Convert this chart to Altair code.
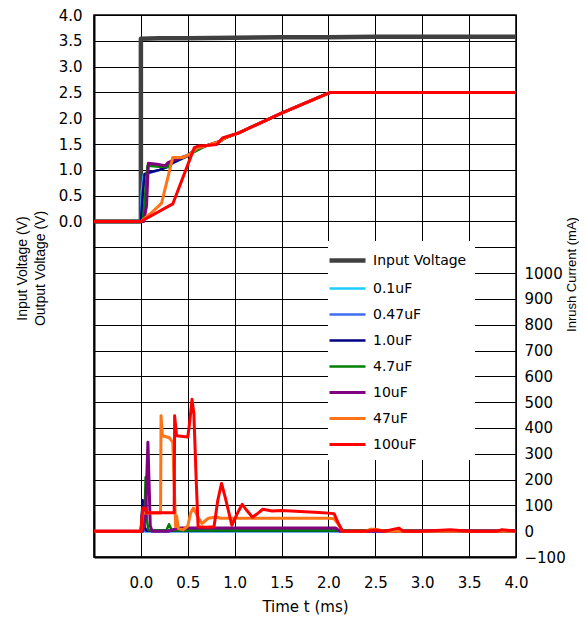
import altair as alt
import pandas as pd

series = ["Input Voltage", "0.1uF", "0.47uF", "1.0uF", "4.7uF", "10uF", "47uF", "100uF"]
colors = ["#404040", "#1ECBFF", "#3F6EF0", "#000080", "#008000", "#800080", "#FF7417", "#FF0000"]
widths = [4.5, 2.5, 2.5, 2.5, 2.5, 3, 3, 3]

# ---- voltages (V) ----
t_vin = [-0.5, 0.0, 0.0, 0.2, 0.5, 1.0, 1.5, 2.0, 2.5, 3.0, 3.5, 4.0]
v_vin = [0.0, 0.0, 3.54, 3.55, 3.55, 3.56, 3.57, 3.57, 3.58, 3.58, 3.58, 3.58]

t_v01 = [-0.5, 0.0, 0.01, 0.03, 0.1, 0.2, 0.27, 0.34, 0.5, 0.59, 0.7, 0.84, 0.9, 1.05, 1.5, 2.02, 2.5, 3.0, 3.5, 4.0]
v_v01 = [0.0, 0.0, 0.6, 0.9, 0.95, 1.0, 1.05, 1.13, 1.27, 1.41, 1.47, 1.55, 1.62, 1.72, 2.1, 2.5, 2.5, 2.5, 2.5, 2.5]
t_v047 = [-0.5, 0.0, 0.015, 0.035, 0.1, 0.2, 0.27, 0.34, 0.5, 0.59, 0.7, 0.84, 0.9, 1.05, 1.5, 2.02, 2.5, 3.0, 3.5, 4.0]
v_v047 = [0.0, 0.0, 0.55, 0.9, 0.95, 1.0, 1.05, 1.13, 1.27, 1.41, 1.47, 1.55, 1.62, 1.72, 2.1, 2.5, 2.5, 2.5, 2.5, 2.5]
t_v1 = [-0.5, 0.0, 0.02, 0.04, 0.1, 0.2, 0.27, 0.34, 0.5, 0.59, 0.7, 0.84, 0.9, 1.05, 1.5, 2.02, 2.5, 3.0, 3.5, 4.0]
v_v1 = [0.0, 0.0, 0.5, 0.92, 0.96, 1.0, 1.05, 1.14, 1.27, 1.41, 1.47, 1.55, 1.62, 1.72, 2.1, 2.5, 2.5, 2.5, 2.5, 2.5]
t_v47 = [-0.5, 0.02, 0.04, 0.07, 0.2, 0.29, 0.32, 0.45, 0.55, 0.7, 0.84, 0.9, 1.05, 1.5, 2.02, 2.5, 3.0, 3.5, 4.0]
v_v47 = [0.0, 0.0, 0.4, 1.08, 1.06, 1.05, 1.17, 1.24, 1.33, 1.47, 1.55, 1.62, 1.72, 2.1, 2.5, 2.5, 2.5, 2.5, 2.5]
t_v10 = [-0.5, 0.03, 0.06, 0.08, 0.17, 0.26, 0.29, 0.4, 0.5, 0.6, 0.7, 0.84, 0.9, 1.05, 1.5, 2.02, 2.5, 3.0, 3.5, 4.0]
v_v10 = [0.0, 0.0, 0.3, 1.13, 1.11, 1.08, 1.14, 1.22, 1.28, 1.42, 1.47, 1.55, 1.62, 1.72, 2.1, 2.5, 2.5, 2.5, 2.5, 2.5]
t_v470 = [-0.5, 0.0, 0.1, 0.22, 0.34, 0.45, 0.52, 0.6, 0.7, 0.84, 0.9, 1.05, 1.5, 2.02, 2.5, 3.0, 3.5, 4.0]
v_v470 = [0.0, 0.0, 0.15, 0.35, 1.24, 1.24, 1.3, 1.42, 1.47, 1.55, 1.62, 1.72, 2.1, 2.5, 2.5, 2.5, 2.5, 2.5]
t_v100 = [-0.5, 0.0, 0.34, 0.57, 0.61, 0.7, 0.81, 0.87, 1.05, 1.5, 2.02, 2.5, 3.0, 3.5, 4.0]
v_v100 = [0.0, 0.0, 0.34, 1.43, 1.46, 1.47, 1.49, 1.62, 1.72, 2.1, 2.5, 2.5, 2.5, 2.5, 2.5]

# ---- inrush currents (mA) ----
t_c01 = [-0.5, 0.0, 0.01, 0.02, 0.03, 4.0]
c_c01 = [0, 0, 60, 15, 0, 0]
t_c047 = [-0.5, 0.0, 0.015, 0.03, 0.05, 4.0]
c_c047 = [0, 0, 90, 10, 0, 0]
t_c1 = [-0.5, 0.0, 0.02, 0.04, 0.06, 4.0]
c_c1 = [0, 0, 120, 15, 3, 3]
t_c47 = [-0.5, 0.02, 0.04, 0.05, 0.065, 0.08, 0.27, 0.3, 0.33, 0.5, 2.1, 4.0]
c_c47 = [0, 0, 60, 209, 40, 5, 2, 27, 3, 3, 3, 0]
t_c10 = [-0.5, 0.02, 0.05, 0.075, 0.1, 0.12, 0.3, 0.36, 0.42, 1.0, 2.0, 2.08, 2.12, 4.0]
c_c10 = [0, 0, 60, 345, 20, 0, 0, 8, 12, 12, 12, 12, 0, 0]
t_c470 = [-0.5, 0.0, 0.02, 0.21, 0.215, 0.23, 0.3, 0.34, 0.37, 0.38, 0.4, 0.45, 0.5, 0.53, 0.56, 0.6, 0.65,
          0.72, 0.8, 0.85, 1.0, 1.5, 2.0, 2.06, 2.1, 2.15, 2.4, 2.45, 2.5, 2.6, 4.0]
c_c470 = [0, 0, 70, 70, 447, 370, 363, 345, 17, 60, 10, 5, 20, 70, 90, 60, 30,
          50, 55, 50, 50, 50, 50, 48, 30, 0, 0, 8, 8, 0, 0]
t_c100 = [-0.5, 0.0, 0.02, 0.05, 0.06, 0.355, 0.36, 0.38, 0.5, 0.52, 0.545, 0.565, 0.59, 0.61, 0.7, 0.78,
          0.82, 0.86, 0.9, 0.97, 1.03, 1.08, 1.13, 1.19, 1.25, 1.3, 1.4, 1.5, 1.6, 1.7, 1.8, 1.9, 2.0,
          2.06, 2.1, 2.15, 2.4, 2.5, 2.6, 2.7, 2.75, 2.8, 3.0, 3.3, 3.5, 3.8, 3.85, 4.0]
c_c100 = [0, 0, 90, 88, 71, 71, 447, 370, 365, 420, 511, 455, 196, 17, 15, 17,
          120, 185, 130, 23, 70, 104, 80, 54, 70, 85, 78, 80, 78, 76, 74, 72, 70,
          68, 35, 0, 0, 5, 0, 8, 12, 0, 0, 6, 0, 0, 6, 0]

xvals = [0.0, 0.5, 1.0, 1.5, 2.0, 2.5, 3.0, 3.5, 4.0]
vvals = [round(-6.5 + 0.5 * i, 1) for i in range(22)]
cvals = [-100, 0, 100, 200, 300, 400, 500, 600, 700, 800, 900, 1000]


def frame(name, ts, vs, col):
    return pd.DataFrame({"t": ts, col: vs, "series": name, "idx": range(len(ts))})


volt = pd.concat([
    frame("Input Voltage", t_vin, v_vin, "v"),
    frame("0.1uF", t_v01, v_v01, "v"),
    frame("0.47uF", t_v047, v_v047, "v"),
    frame("1.0uF", t_v1, v_v1, "v"),
    frame("4.7uF", t_v47, v_v47, "v"),
    frame("10uF", t_v10, v_v10, "v"),
    frame("47uF", t_v470, v_v470, "v"),
    frame("100uF", t_v100, v_v100, "v"),
], ignore_index=True)

curr = pd.concat([
    frame("0.1uF", t_c01, c_c01, "i"),
    frame("0.47uF", t_c047, c_c047, "i"),
    frame("1.0uF", t_c1, c_c1, "i"),
    frame("4.7uF", t_c47, c_c47, "i"),
    frame("10uF", t_c10, c_c10, "i"),
    frame("47uF", t_c470, c_c470, "i"),
    frame("100uF", t_c100, c_c100, "i"),
], ignore_index=True)

leg = alt.Legend(symbolType="M-2,0H2", symbolSize=324, labelFontSize=14, labelOffset=14,
                 rowPadding=8, padding=8, fillColor="white", orient="none",
                 legendX=234, legendY=226, labelFont="DejaVu Sans", labelColor="black")

color = alt.Color("series:N", scale=alt.Scale(domain=series, range=colors), title=None, legend=leg)
swidth = alt.StrokeWidth("series:N", scale=alt.Scale(type="ordinal", domain=series, range=widths),
                         title=None, legend=leg)

x = alt.X("t:Q", scale=alt.Scale(domain=[-0.5, 4.0], nice=False, zero=False),
          axis=alt.Axis(values=xvals, format=".1f", grid=True, title="Time t (ms)",
                        labelFontSize=15, labelFont="DejaVu Sans", labelPadding=18,
                        titleFontSize=15, titleFont="DejaVu Sans", titlePadding=9,
                        domainWidth=2, labelFlush=False))

vlayer = alt.Chart(volt).mark_line(strokeJoin="round").encode(
    x=x,
    y=alt.Y("v:Q", scale=alt.Scale(domain=[-6.5, 4.0], nice=False, zero=False),
            axis=alt.Axis(values=vvals, grid=True,
                          labelExpr="datum.value >= 0 ? format(datum.value, '.1f') : ''",
                          title=["Input Voltage (V)", "Output Voltage (V)"],
                          titleFont="Liberation Sans", titleFontSize=14, titleLineHeight=18,
                          titleY=253, titlePadding=11,
                          labelFont="DejaVu Sans", labelFontSize=15, labelPadding=12,
                          domainWidth=2, labelFlush=False)),
    color=color,
    strokeWidth=swidth,
    order=alt.Order("idx:Q"),
)

clayer = alt.Chart(curr).mark_line(strokeJoin="round").encode(
    x=x,
    y=alt.Y("i:Q", scale=alt.Scale(domain=[-100, 2000], nice=False, zero=False),
            axis=alt.Axis(values=cvals, format="d", grid=False, orient="right", domain=False,
                          title="Inrush Current (mA)", titleAngle=270, titleBaseline="top",
                          titleFont="Liberation Sans", titleFontSize=13, titleY=259, titlePadding=0,
                          labelFont="DejaVu Sans", labelFontSize=15, labelPadding=8,
                          labelFlush=False)),
    color=color,
    strokeWidth=swidth,
    order=alt.Order("idx:Q"),
)

chart = alt.layer(clayer, vlayer).resolve_scale(y="independent").properties(
    width=422, height=542,
    autosize=alt.AutoSizeParams(type="none"),
    padding={"left": 86, "top": 7, "right": 63, "bottom": 58},
).configure_view(stroke="black", strokeWidth=1.5).configure_axis(
    ticks=False, gridColor="black", gridOpacity=1, gridWidth=1, domainColor="black",
    labelColor="black", titleColor="black", titleFontWeight="normal",
).configure_legend(titleFontSize=0)

chart.save("out.html", embed_options={"renderer": "svg", "actions": False})
